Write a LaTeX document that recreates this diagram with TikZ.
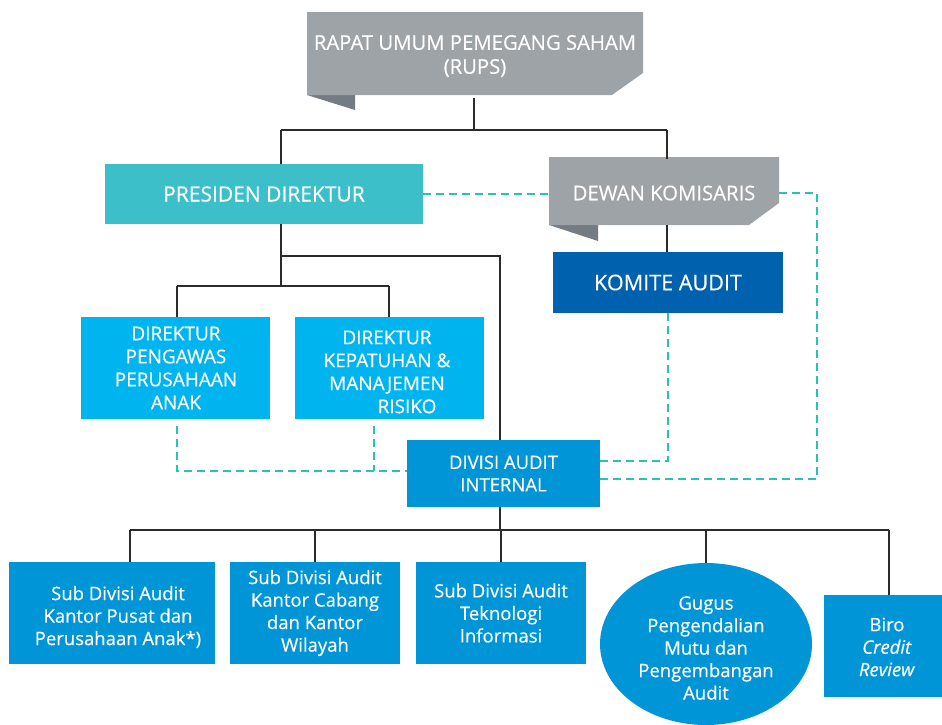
\documentclass[tikz,border=0pt]{standalone}
\usepackage{fontspec}
\setmainfont{Open Sans}[FakeBold=0.4]
\usetikzlibrary{shapes.geometric}
\definecolor{grayc}{HTML}{9EA3A8}
\definecolor{foldc}{HTML}{757B82}
\definecolor{presc}{HTML}{3DBFC9}
\definecolor{komc}{HTML}{0061AE}
\definecolor{dirc}{HTML}{00B4EF}
\definecolor{divc}{HTML}{0095D6}
\definecolor{dashc}{HTML}{2BC0BA}
\definecolor{linec}{HTML}{2B2B2B}
\tikzset{
  txt/.style={text=white, align=center, inner sep=0pt, font=\fontsize{19}{23}\selectfont},
  bigtxt/.style={text=white, align=center, inner sep=0pt, font=\fontsize{#1}{24}\selectfont},
  smalltxt/.style={text=white, align=center, inner sep=0pt, font=\fontsize{18.5}{22.5}\selectfont},
  boxc/.style={rectangle, inner sep=0pt, fill=#1},
  solidline/.style={draw=linec, line width=2pt},
  dashline/.style={draw=dashc, line width=2.2pt, dash pattern=on 8pt off 5pt},
}
\begin{document}
\begin{tikzpicture}[x=1pt, y=-1pt]
\useasboundingbox (0,0) rectangle (942,724);
% --- RUPS shape
\fill[foldc] (307,95) -- (355,95) -- (355,110) -- cycle;
\fill[grayc] (307,12) -- (643,12) -- (643,73) -- (612,95) -- (307,95) -- cycle;
\node[bigtxt=20.3, minimum width=336pt, minimum height=83pt] (rups) at (475,56) {RAPAT UMUM PEMEGANG SAHAM\\(RUPS)};
% --- Dewan Komisaris shape
\fill[foldc] (549,225) -- (598,225) -- (598,241) -- cycle;
\fill[grayc] (549,157) -- (779,157) -- (779,203) -- (749,225) -- (549,225) -- cycle;
\node[bigtxt=20.3, minimum width=230pt, minimum height=68pt] (dewan) at (664,193) {DEWAN KOMISARIS};
% --- boxes
\node[boxc=presc, bigtxt=21, minimum width=318pt, minimum height=60pt] (pres) at (264,194) {PRESIDEN DIREKTUR};
\node[boxc=komc, bigtxt=21.6, minimum width=230pt, minimum height=61pt] (kom) at (668,282.5) {KOMITE AUDIT};
\node[boxc=dirc, minimum width=189pt, minimum height=102pt] (dp) at (175.5,368) {};
\node[txt] at (176,368) {DIREKTUR\\PENGAWAS\\PERUSAHAAN\\ANAK};
\node[boxc=dirc, minimum width=189pt, minimum height=102pt] (dk) at (389.5,368) {};
\node[txt] at (387,372) {DIREKTUR\\KEPATUHAN \&\\MANAJEMEN\\\hspace*{40pt}RISIKO};
\node[boxc=divc, smalltxt, minimum width=193pt, minimum height=67pt] (div) at (503.5,473.5) {DIVISI AUDIT\\INTERNAL};
% --- bottom row
\node[boxc=divc, minimum width=206pt, minimum height=102pt] (s1) at (112,613) {};
\node[smalltxt] at (118,617) {Sub Divisi Audit\\Kantor Pusat dan\\Perusahaan Anak*)};
\node[boxc=divc, smalltxt, minimum width=170pt, minimum height=102pt] (s2) at (315,613) {Sub Divisi Audit\\Kantor Cabang\\dan Kantor\\Wilayah};
\node[boxc=divc, minimum width=170pt, minimum height=102pt] (s3) at (501,613) {};
\node[smalltxt] at (501,613) {Sub Divisi Audit\\Teknologi\\Informasi};
\node[ellipse, fill=divc, inner sep=0pt, minimum width=212pt, minimum height=162pt] (gug) at (706,644) {};
\node[smalltxt] at (706,648) {Gugus\\Pengendalian\\Mutu dan\\Pengembangan\\Audit};
\node[boxc=divc, minimum width=120pt, minimum height=102pt] (biro) at (884,646) {};
\node[smalltxt] at (887,647) {Biro\\\textit{Credit}\\\textit{Review}};
% --- solid connectors
\coordinate (jt) at (474,130);
\draw[solidline] (rups.south -| jt) -- (jt);
\draw[solidline] (281,130) -- (667,130);
\draw[solidline] (281,130) -- (pres.north -| 281,0);
\draw[solidline] (667,130) -- (dewan.north -| 667,0);
\draw[solidline] (667,225) -- (kom.north -| 667,0);
\draw[solidline] (pres.south -| 281,0) -- (281,286);
\draw[solidline] (281,256) -- (500,256) -- (div.north -| 500,0);
\draw[solidline] (177,286) -- (389,286);
\draw[solidline] (177,286) -- (dp.north -| 177,0);
\draw[solidline] (389,286) -- (dk.north -| 389,0);
\draw[solidline] (div.south -| 500,0) -- (500,530);
\draw[solidline] (130,530) -- (889,530);
\draw[solidline] (130,530) -- (s1.north -| 130,0);
\draw[solidline] (315,530) -- (s2.north);
\draw[solidline] (501,530) -- (s3.north);
\draw[solidline] (706,530) -- (gug.north);
\draw[solidline] (889,530) -- (biro.north -| 889,0);
% --- dashed connectors
\draw[dashline] (pres.east) -- (pres.east -| dewan.west);
\draw[dashline] (dewan.east) -- (817,193) -- (817,479) -- (div.east |- 0,479);
\draw[dashline] (kom.south) -- (668,461) -- (div.east |- 0,461);
\draw[dashline] ([yshift=-7pt]dp.south -| 177,0) -- (177,471) -- (div.west |- 0,471);
\draw[dashline] ([yshift=-7pt]dk.south -| 374,0) -- (374,471);
\end{tikzpicture}
\end{document}
